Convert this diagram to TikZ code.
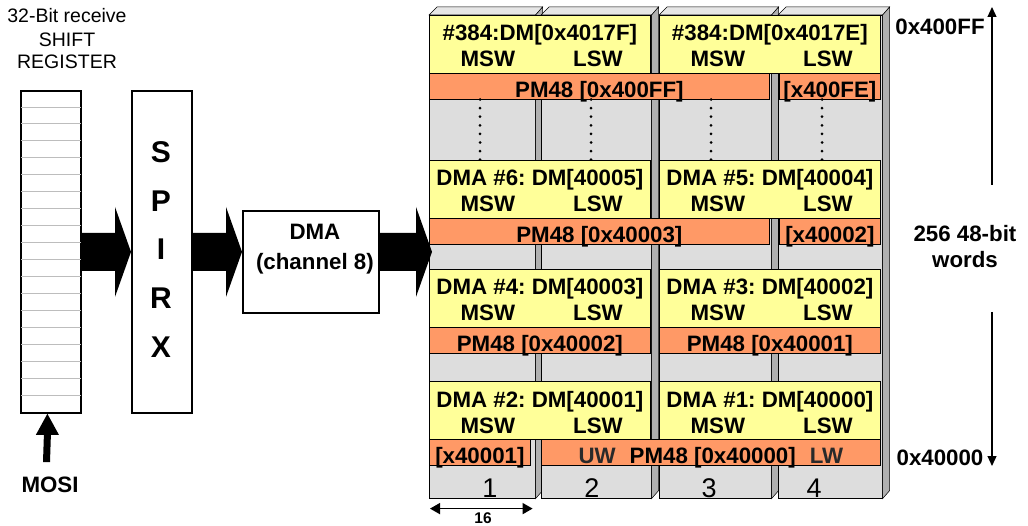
\documentclass[tikz,border=0pt]{standalone}
\usepackage{fontspec}
\setmainfont{Liberation Sans}
\usetikzlibrary{arrows.meta,calc}
\frenchspacing
\definecolor{memY}{HTML}{FFFF99}
\definecolor{memO}{HTML}{FF9966}
\definecolor{colF}{HTML}{DDDDDD}
\definecolor{colS}{HTML}{B0B0B0}
\definecolor{colT}{HTML}{E6E6E6}
\definecolor{uwC}{HTML}{2A2A2A}
\definecolor{regL}{HTML}{BDBDBD}
\newcommand\yelbox[3]{%
  \node[ybox] (#1) at (#2) {};
  \node[bf,anchor=base] (#1t) at ($(#1.north)+(0,26)$) {#3};
  \node[bf,anchor=base] (#1m) at ($(#1.north)+(-52,52)$) {MSW};
  \node[bf,anchor=base] (#1l) at ($(#1.north)+(58,52)$) {LSW};}
\newcommand\orgbox[4]{%
  \node[obox,minimum width=#3pt] (#1) at (#2) {};
  \node[bf,anchor=base] (#1t) at ($(#1.south)+(0,-2.5)$) {#4};}
\newcommand\memcol[3]{%
  \node[colface,minimum width=#3pt] (#1) at (#2) {};
  \filldraw[fill=colT,draw=black,line width=0.5pt] (#1.north west) -- ++(8,-8) -- ($(#1.north east)+(7,-8)$) -- (#1.north east) -- cycle;
  \filldraw[fill=colS,draw=black,line width=0.5pt] (#1.north east) -- ++(7,-8) -- ($(#1.south east)+(7,-8)$) -- (#1.south east) -- cycle;}
\newcommand\bigarr[2]{%
  \fill ($(#1)+(0,-19)$) -- ($(#2)+(-16,-19)$) -- ($(#2)+(-16,-45)$) -- (#2) -- ($(#2)+(-16,45)$) -- ($(#2)+(-16,19)$) -- ($(#1)+(0,19)$) -- cycle;}
\begin{document}
\begin{tikzpicture}[x=1pt,y=-1pt,
  bf/.style={font=\fontsize{22.3}{26}\selectfont\bfseries, inner sep=0pt},
  blockbox/.style={draw=black, line width=1.8pt, fill=white, inner sep=0pt, anchor=north west},
  ybox/.style={draw=black, line width=0.8pt, fill=memY, inner sep=0pt, minimum width=221pt, minimum height=58pt, anchor=north west},
  obox/.style={draw=black, line width=0.8pt, fill=memO, inner sep=0pt, minimum height=26pt, anchor=north west},
  colface/.style={draw=black, line width=0.6pt, fill=colF, inner sep=0pt, anchor=north west, minimum height=483pt},
  thinarrow/.style={line width=1.2pt, -{Triangle[width=9pt,length=10pt]}},
  dotline/.style={line width=3pt, line cap=round, dash pattern=on 0pt off 8.6pt},
]
\useasboundingbox (0,0) rectangle (1028,526);

% title
\node[font=\fontsize{19.5}{23}\selectfont, inner sep=0pt, anchor=base] (t1) at (67,22.5) {32-Bit receive};
\node[font=\fontsize{19.5}{23}\selectfont, inner sep=0pt, anchor=base] (t2) at (67,46.5) {SHIFT};
\node[font=\fontsize{19.5}{23}\selectfont, inner sep=0pt, anchor=base] (t3) at (67,68.5) {REGISTER};

% shift register
\node[blockbox, minimum width=60pt, minimum height=322pt] (sr) at (20,90) {};
\foreach \k in {1,...,18}
  \draw[regL, line width=0.8pt] ($(sr.north west)+(1,\k*16.947)$) -- ($(sr.north east)+(-1,\k*16.947)$);

% SPIRX
\node[blockbox, minimum width=60pt, minimum height=322pt] (spirx) at (131,90) {};
\foreach \l/\yy [count=\i] in {S/162.5,P/211.2,I/260,R/308.8,X/357.5}
  \node[font=\fontsize{30}{30}\selectfont\bfseries, inner sep=0pt, anchor=base] (sp\i) at (161,\yy) {\l};

% DMA
\node[blockbox, minimum width=136pt, minimum height=102pt] (dma) at (242,210) {};
\node[bf,anchor=base] (dmat1) at ($(dma.north)+(4,30)$) {DMA};
\node[bf,anchor=base] (dmat2) at ($(dma.north)+(4,60)$) {(channel 8)};

% MOSI
\node[bf,anchor=base] (mosi) at (50,492) {MOSI};
\coordinate (mt) at ($(sr.south)+(-3.5,0)$);
\coordinate (mb) at (46.5,462);
\fill (mt) -- ($(mt)+(11.5,21)$) -- ($(mt)+(3.5,21)$) -- ($(mb)+(3.5,0)$) -- ($(mb)+(-3.5,0)$) -- ($(mt)+(-3.5,21)$) -- ($(mt)+(-11.5,21)$) -- cycle;

% memory columns
\memcol{c1}{429,15}{106}
\memcol{c2}{541,15}{110}
\memcol{c3}{659,15}{112}
\memcol{c4}{778,15}{104}

% row 1
\yelbox{ya1}{429,15}{\#384:DM[0x4017F]}
\yelbox{yb1}{659,15}{\#384:DM[0x4017E]}
\orgbox{oa1}{429,73}{340}{PM48 [0x400FF]}
\orgbox{ob1}{779,73}{101}{[x400FE]}

% dots
\foreach \xx [count=\i] in {480,591,711,822}
  \draw[dotline] (\xx,99.5) -- (\xx,160);

% row 2
\yelbox{ya2}{429,160}{DMA \#6: DM[40005]}
\yelbox{yb2}{659,160}{DMA \#5: DM[40004]}
\orgbox{oa2}{429,218}{340}{PM48 [0x40003]}
\orgbox{ob2}{779,218}{101}{[x40002]}

% row 3
\yelbox{ya3}{429,269}{DMA \#4: DM[40003]}
\yelbox{yb3}{659,269}{DMA \#3: DM[40002]}
\orgbox{oa3}{429,327}{221}{PM48 [0x40002]}
\orgbox{ob3}{659,327}{221}{PM48 [0x40001]}

% row 4
\yelbox{ya4}{429,381}{DMA \#2: DM[40001]}
\yelbox{yb4}{659,381}{DMA \#1: DM[40000]}
\orgbox{oa4}{429,439}{101}{[x40001]}
\orgbox{ob4}{541,439}{339}{\textcolor{uwC}{UW}\hspace{14pt}PM48 [0x40000]\hspace{14pt}\textcolor{uwC}{LW}}

% column numbers
\foreach \n/\xx in {1/490,2/592,3/709,4/814}
  \node[font=\fontsize{27}{27}\selectfont, inner sep=0pt, anchor=base] (cn\n) at (\xx,497) {\n};

% width arrow
\coordinate (a16l) at ($(c1.south west)+(1,10)$);
\coordinate (a16r) at ($(c1.south east)+(-3,10)$);
\draw[line width=1.5pt, {Triangle[width=11pt,length=10pt]}-{Triangle[width=11pt,length=10pt]}] (a16l) -- (a16r);
\node[font=\fontsize{15.5}{16}\selectfont\bfseries, inner sep=0pt, anchor=base] (w16) at (483,523) {16};

% big arrows
\coordinate (a2e) at (spirx.east -| dma.west);
\coordinate (a3s) at (dma.east |- spirx.east);
\coordinate (a3e) at ($(c1.west |- spirx.east)+(3,0)$);
\bigarr{sr.east}{spirx.west}
\bigarr{spirx.east}{a2e}
\bigarr{a3s}{a3e}

% right side labels
\node[bf,anchor=base] (top) at (940,35) {0x400FF};
\node[bf,anchor=base] (bot) at (940,465) {0x40000};
\node[bf,anchor=base] (sz1) at (965,242) {256 48-bit};
\node[bf,anchor=base] (sz2) at (965,268) {words};
\coordinate (rtop) at (992,7);
\coordinate (rm1) at (992,185);
\coordinate (rm2) at (992,312);
\coordinate (rbot) at (992,466);
\draw[thinarrow] (rm1) -- (rtop);
\draw[thinarrow] (rm2) -- (rbot);
\end{tikzpicture}
\end{document}
